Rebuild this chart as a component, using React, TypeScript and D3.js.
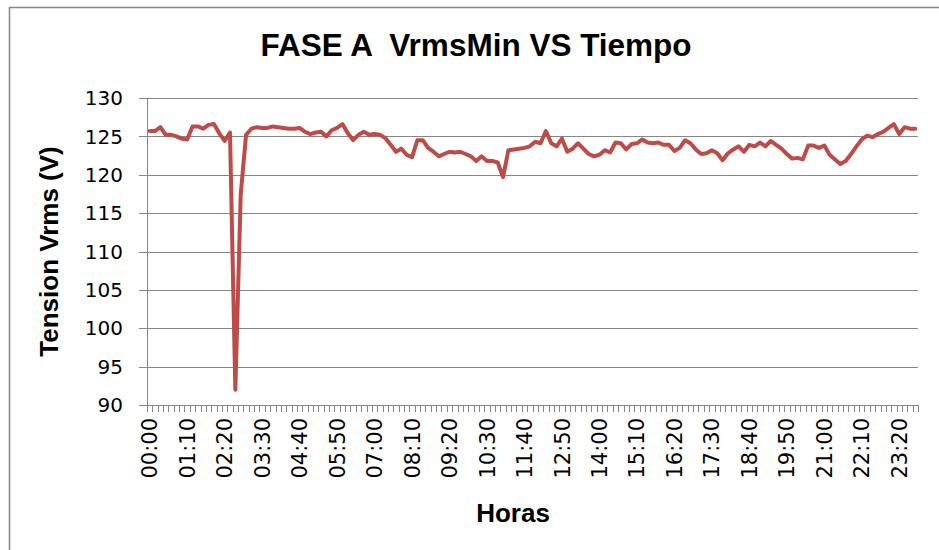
import React from 'react'
import { scalePoint, scaleLinear, line, range } from 'd3'

// 10 minute samples, 00:00 .. 23:50
const times = range(0, 144).map(i => {
  const h = Math.floor(i / 6)
  const m = (i % 6) * 10
  return String(h).padStart(2, '0') + ':' + String(m).padStart(2, '0')
})

const vrmsMin = [
  125.7, 125.7, 126.2, 125.2, 125.2, 125.0, 124.7, 124.6, 126.3, 126.3, 126.0, 126.5,
  126.6, 125.4, 124.4, 125.5, 92.0, 117.4, 125.2, 126.0, 126.2, 126.1, 126.1, 126.3,
  126.2, 126.1, 126.0, 126.0, 126.1, 125.6, 125.3, 125.5, 125.6, 125.0, 125.8, 126.1,
  126.6, 125.4, 124.5, 125.2, 125.6, 125.2, 125.3, 125.2, 124.8, 123.9, 123.0, 123.4,
  122.6, 122.3, 124.5, 124.5, 123.5, 123.0, 122.4, 122.7, 123.0, 122.9, 123.0, 122.7,
  122.4, 121.8, 122.4, 121.8, 121.8, 121.6, 119.7, 123.2, 123.3, 123.4, 123.5, 123.7,
  124.3, 124.1, 125.7, 124.1, 123.7, 124.7, 123.0, 123.4, 124.1, 123.4, 122.7, 122.4,
  122.6, 123.2, 122.9, 124.2, 124.1, 123.3, 124.0, 124.1, 124.6, 124.2, 124.1, 124.2,
  123.9, 123.9, 123.1, 123.5, 124.5, 124.1, 123.3, 122.7, 122.8, 123.2, 122.8, 121.9,
  122.8, 123.3, 123.7, 123.0, 123.9, 123.7, 124.2, 123.7, 124.4, 123.9, 123.4, 122.7,
  122.1, 122.2, 122.0, 123.8, 123.8, 123.5, 123.8, 122.6, 122.0, 121.4, 121.8, 122.7,
  123.7, 124.6, 125.1, 124.9, 125.3, 125.6, 126.1, 126.6, 125.3, 126.2, 126.0, 126.0,
]

const yTicks = [90, 95, 100, 105, 110, 115, 120, 125, 130]

export default function App() {
  const left = 147, right = 918, top = 98, bottom = 405

  const x = scalePoint<string>().domain(times).range([left, right]).padding(0.5)
  const y = scaleLinear().domain([90, 130]).range([bottom, top])
  const step = x.step()

  const path = line<number>()
    .x((d, i) => x(times[i]) as number)
    .y(d => y(d))(vrmsMin)

  const grey = '#868686'

  return (
    <svg width={939} height={550} style={{ position: 'absolute', left: 0, top: 0 }}
      fontFamily="'DejaVu Sans', sans-serif">
      <rect x={0} y={0} width={939} height={550} fill="#fff" />
      <rect x={9.5} y={7.5} width={960} height={600} fill="none" stroke={grey} strokeWidth={1.5} />

      <text x={476} y={56} textAnchor="middle" fontFamily="'Liberation Sans', Arial, sans-serif"
        fontWeight="bold" fontSize={31.5} xmlSpace="preserve">FASE A  VrmsMin VS Tiempo</text>

      {/* gridlines + y axis */}
      {yTicks.map(t => (
        <g key={t}>
          {t > 90 && <line x1={left} x2={right} y1={Math.round(y(t)) + 0.5} y2={Math.round(y(t)) + 0.5} stroke={grey} />}
          <line x1={left - 8} x2={left} y1={Math.round(y(t)) + 0.5} y2={Math.round(y(t)) + 0.5} stroke={grey} />
          <text x={123} y={y(t)} dy="0.36em" textAnchor="end" fontSize={20} fill="#000">{t}</text>
        </g>
      ))}
      <line x1={left + 0.5} x2={left + 0.5} y1={top} y2={bottom} stroke={grey} />

      {/* x axis */}
      <line x1={left} x2={right} y1={bottom + 0.5} y2={bottom + 0.5} stroke={grey} />
      {range(0, times.length + 1).map(i => {
        const bx = Math.round(left + i * step) + 0.5
        return <line key={i} x1={bx} x2={bx} y1={bottom} y2={bottom + 7} stroke={grey} />
      })}
      {times.filter((_, i) => i % 7 === 0).map(t => (
        <text key={t} transform={`translate(${x(t)},${bottom + 13}) rotate(-90)`} dy="0.36em"
          textAnchor="end" fontSize={21} fill="#000">{t}</text>
      ))}

      <path d={path || ''} fill="none" stroke="#BE4B48" strokeWidth={4} strokeLinejoin="round" strokeLinecap="round" />

      <text transform={`translate(58,${(top + bottom) / 2}) rotate(-90)`} textAnchor="middle"
        fontFamily="'Liberation Sans', Arial, sans-serif" fontWeight="bold" fontSize={26}>Tension Vrms (V)</text>
      <text x={513} y={522} textAnchor="middle" fontFamily="'Liberation Sans', Arial, sans-serif"
        fontWeight="bold" fontSize={26}>Horas</text>
    </svg>
  )
}
